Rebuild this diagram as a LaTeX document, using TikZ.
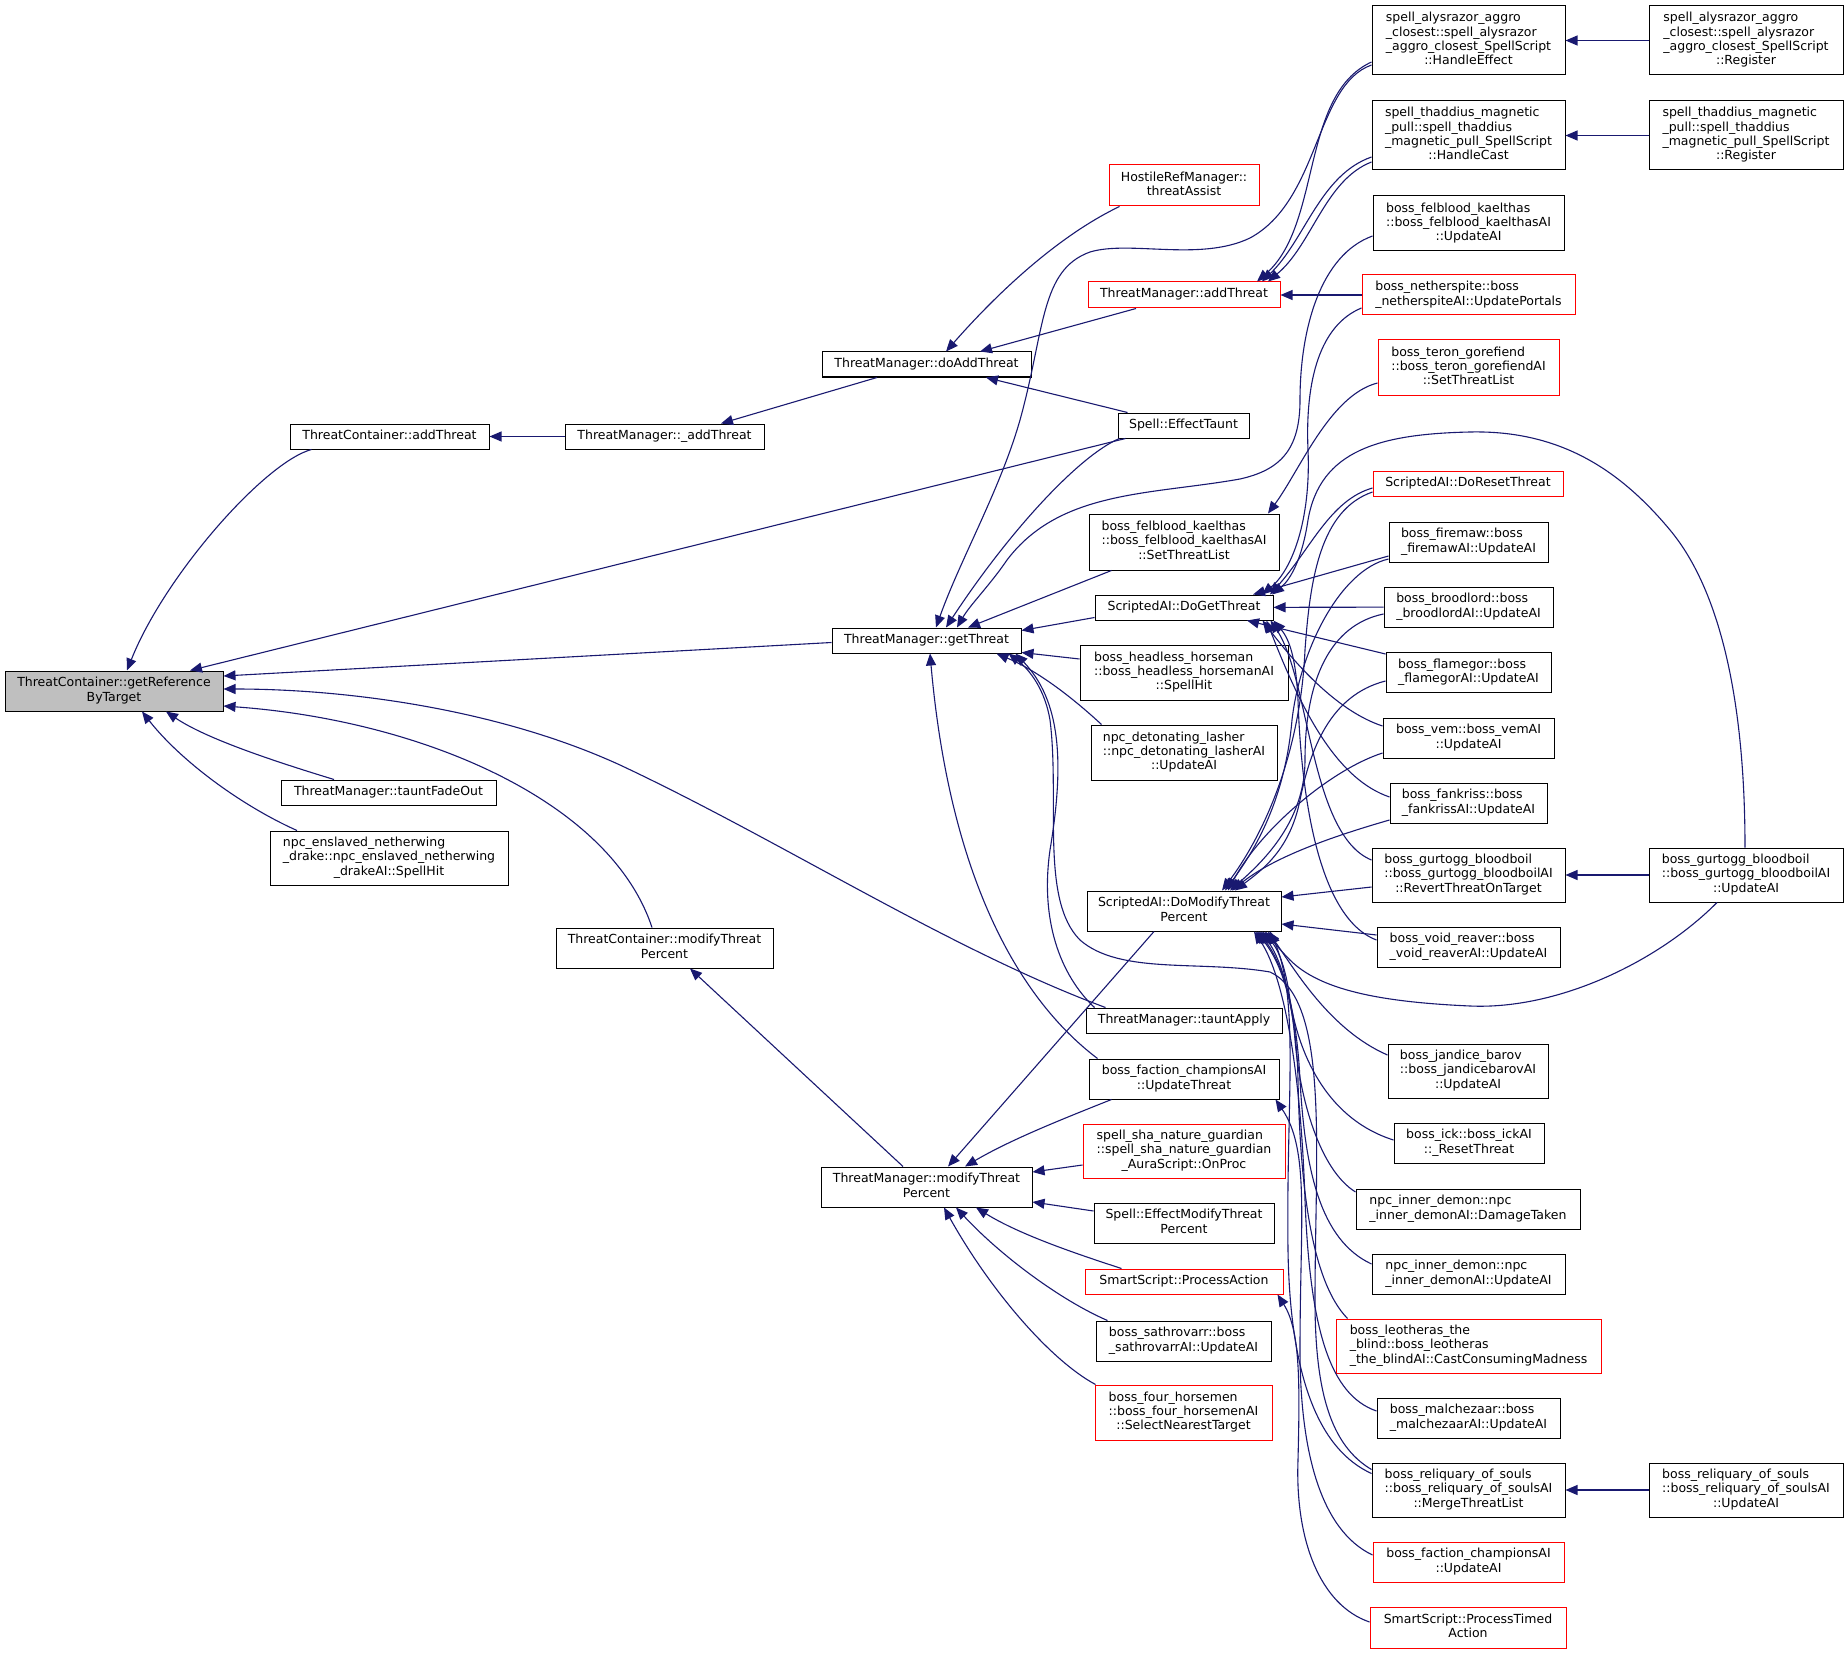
\documentclass[tikz,border=0pt]{standalone}
\usepackage{fontspec}
\newfontfamily\dotfont{DejaVu Sans}
\usepackage{xcolor}
\usetikzlibrary{arrows.meta}
\definecolor{edgeblue}{HTML}{191970}
\definecolor{rootgray}{HTML}{BFBFBF}
\definecolor{linkred}{HTML}{FF0000}
\newcommand{\boxlines}[2]{\begin{tabular}{@{}l@{}}#1\\\multicolumn{1}{@{}c@{}}{#2}\end{tabular}}
\tikzstyle{func} = [rectangle, draw=black, line width=1pt, fill=white, inner sep=0pt, font=\dotfont\fontsize{12.5}{14.3}\selectfont, execute at begin node=\strut]
\tikzstyle{funcred} = [func, draw=linkred]
\tikzstyle{funcroot} = [func, fill=rootgray]
\tikzstyle{arrow} = [line width=1.1pt, draw=edgeblue, -{Triangle[length=12pt,width=10pt]}]
\tikzset{wh/.style 2 args={minimum width=#1pt, minimum height=#2pt}}

\begin{document}
\begin{tikzpicture}[x=1pt, y=-1pt]
    \path[fill=white] (0,0) rectangle (1848,1653);
    \useasboundingbox (0,0) rectangle (1848,1653);

    \node (getref) [funcroot, wh={218}{40}] at (114,691) {\boxlines{ThreatContainer::getReference}{ByTarget}};
    \node (addthrc) [func, wh={199}{25}] at (389.5,436.5) {ThreatContainer::addThreat};
    \node (fadeout) [func, wh={215}{25}] at (388.5,792.5) {ThreatManager::tauntFadeOut};
    \node (enslaved) [func, wh={238}{54}] at (389,858) {\boxlines{npc\_enslaved\_netherwing\\\_drake::npc\_enslaved\_netherwing}{\_drakeAI::SpellHit}};
    \node (uaddthr) [func, wh={199}{25}] at (664.5,436.5) {ThreatManager::\_addThreat};
    \node (modthrc) [func, wh={217}{40}] at (664.5,948) {\boxlines{ThreatContainer::modifyThreat}{Percent}};
    \node (doaddthr) [func, wh={209}{25}] at (926.5,364.5) {ThreatManager::doAddThreat};
    \node (getthr) [func, wh={189}{25}] at (926.5,640.5) {ThreatManager::getThreat};
    \node (modthrm) [func, wh={211}{40}] at (926.5,1187) {\boxlines{ThreatManager::modifyThreat}{Percent}};

    \node (assist) [funcred, wh={150}{41}] at (1184,185.5) {\boxlines{HostileRefManager::}{threatAssist}};
    \node (addthrm) [funcred, wh={192}{26}] at (1184,295) {ThreatManager::addThreat};
    \node (taunt) [func, wh={131}{25}] at (1183.5,425.5) {Spell::EffectTaunt};
    \node (setlist) [func, wh={190}{56}] at (1184,542) {\boxlines{boss\_felblood\_kaelthas\\::boss\_felblood\_kaelthasAI}{::SetThreatList}};
    \node (dogetthr) [func, wh={178}{25}] at (1184,607.5) {ScriptedAI::DoGetThreat};
    \node (headless) [func, wh={208}{55}] at (1184,672.5) {\boxlines{boss\_headless\_horseman\\::boss\_headless\_horsemanAI}{::SpellHit}};
    \node (lasher) [func, wh={186}{55}] at (1184,752.5) {\boxlines{npc\_detonating\_lasher\\::npc\_detonating\_lasherAI}{::UpdateAI}};
    \node (domodthr) [func, wh={194}{40}] at (1184,911) {\boxlines{ScriptedAI::DoModifyThreat}{Percent}};
    \node (tauntapp) [func, wh={196}{25}] at (1184,1020.5) {ThreatManager::tauntApply};
    \node (updthr) [func, wh={190}{40}] at (1184,1079) {\boxlines{boss\_faction\_championsAI}{::UpdateThreat}};
    \node (natguard) [funcred, wh={202}{54}] at (1184,1151) {\boxlines{spell\_sha\_nature\_guardian\\::spell\_sha\_nature\_guardian}{\_AuraScript::OnProc}};
    \node (effmod) [func, wh={180}{40}] at (1184,1223) {\boxlines{Spell::EffectModifyThreat}{Percent}};
    \node (procact) [funcred, wh={198}{25}] at (1184,1281.5) {SmartScript::ProcessAction};
    \node (sathro) [func, wh={175}{40}] at (1183.5,1341) {\boxlines{boss\_sathrovarr::boss}{\_sathrovarrAI::UpdateAI}};
    \node (horsemen) [funcred, wh={177}{55}] at (1183.5,1412.5) {\boxlines{boss\_four\_horsemen\\::boss\_four\_horsemenAI}{::SelectNearestTarget}};

    \node (alyeff) [func, wh={193}{69}] at (1468.5,40.5) {\boxlines{spell\_alysrazor\_aggro\\\_closest::spell\_alysrazor\\\_aggro\_closest\_SpellScript}{::HandleEffect}};
    \node (thadcast) [func, wh={193}{69}] at (1468.5,135.5) {\boxlines{spell\_thaddius\_magnetic\\\_pull::spell\_thaddius\\\_magnetic\_pull\_SpellScript}{::HandleCast}};
    \node (felai) [func, wh={191}{55}] at (1468.5,223.5) {\boxlines{boss\_felblood\_kaelthas\\::boss\_felblood\_kaelthasAI}{::UpdateAI}};
    \node (nether) [funcred, wh={213}{40}] at (1468.5,295) {\boxlines{boss\_netherspite::boss}{\_netherspiteAI::UpdatePortals}};
    \node (teron) [funcred, wh={181}{55}] at (1468.5,367.5) {\boxlines{boss\_teron\_gorefiend\\::boss\_teron\_gorefiendAI}{::SetThreatList}};
    \node (doreset) [funcred, wh={190}{25}] at (1468,483.5) {ScriptedAI::DoResetThreat};
    \node (firemaw) [func, wh={159}{40}] at (1468.5,542) {\boxlines{boss\_firemaw::boss}{\_firemawAI::UpdateAI}};
    \node (brood) [func, wh={169}{40}] at (1468.5,607) {\boxlines{boss\_broodlord::boss}{\_broodlordAI::UpdateAI}};
    \node (flamegor) [func, wh={165}{40}] at (1468.5,672.5) {\boxlines{boss\_flamegor::boss}{\_flamegorAI::UpdateAI}};
    \node (vem) [func, wh={171}{40}] at (1468.5,738) {\boxlines{boss\_vem::boss\_vemAI}{::UpdateAI}};
    \node (fankriss) [func, wh={157}{40}] at (1468.5,803) {\boxlines{boss\_fankriss::boss}{\_fankrissAI::UpdateAI}};
    \node (revert) [func, wh={193}{54}] at (1468.5,875) {\boxlines{boss\_gurtogg\_bloodboil\\::boss\_gurtogg\_bloodboilAI}{::RevertThreatOnTarget}};
    \node (voidrv) [func, wh={183}{40}] at (1468.5,947) {\boxlines{boss\_void\_reaver::boss}{\_void\_reaverAI::UpdateAI}};
    \node (jandice) [func, wh={160}{54}] at (1468,1071) {\boxlines{boss\_jandice\_barov\\::boss\_jandicebarovAI}{::UpdateAI}};
    \node (ick) [func, wh={150}{40}] at (1469,1143) {\boxlines{boss\_ick::boss\_ickAI}{::\_ResetThreat}};
    \node (demondmg) [func, wh={224}{40}] at (1468,1209) {\boxlines{npc\_inner\_demon::npc}{\_inner\_demonAI::DamageTaken}};
    \node (demonai) [func, wh={193}{40}] at (1468.5,1274) {\boxlines{npc\_inner\_demon::npc}{\_inner\_demonAI::UpdateAI}};
    \node (leoth) [funcred, wh={265}{54}] at (1468.5,1346) {\boxlines{boss\_leotheras\_the\\\_blind::boss\_leotheras}{\_the\_blindAI::CastConsumingMadness}};
    \node (malch) [func, wh={183}{40}] at (1468.5,1418) {\boxlines{boss\_malchezaar::boss}{\_malchezaarAI::UpdateAI}};
    \node (reliq) [func, wh={193}{54}] at (1468.5,1490) {\boxlines{boss\_reliquary\_of\_souls\\::boss\_reliquary\_of\_soulsAI}{::MergeThreatList}};
    \node (factai) [funcred, wh={191}{40}] at (1468.5,1562) {\boxlines{boss\_faction\_championsAI}{::UpdateAI}};
    \node (timed) [funcred, wh={196}{41}] at (1468,1627.5) {\boxlines{SmartScript::ProcessTimed}{Action}};

    \node (alyreg) [func, wh={194}{69}] at (1746,40.5) {\boxlines{spell\_alysrazor\_aggro\\\_closest::spell\_alysrazor\\\_aggro\_closest\_SpellScript}{::Register}};
    \node (thadreg) [func, wh={194}{69}] at (1746,135.5) {\boxlines{spell\_thaddius\_magnetic\\\_pull::spell\_thaddius\\\_magnetic\_pull\_SpellScript}{::Register}};
    \node (gurtai) [func, wh={194}{54}] at (1746,875) {\boxlines{boss\_gurtogg\_bloodboil\\::boss\_gurtogg\_bloodboilAI}{::UpdateAI}};
    \node (reliqai) [func, wh={194}{54}] at (1746,1490) {\boxlines{boss\_reliquary\_of\_souls\\::boss\_reliquary\_of\_soulsAI}{::UpdateAI}};

    \draw[arrow] ([xshift=22pt]addthrc.south west) .. controls (265,462) and (165,575) .. ([xshift=13pt]getref.north);
    \draw[arrow] ([xshift=8pt]taunt.south west) -- ([xshift=76pt]getref.north);
    \draw[arrow] ([yshift=-2pt]getthr.west) -- ([yshift=15pt]getref.east);
    \draw[arrow] ([xshift=20pt]tauntapp.north west) .. controls (950,950) and (780,840) .. (620,765) .. controls (500,710) and (350,689) .. ([yshift=2pt]getref.east);
    \draw[arrow] ([xshift=-12.5pt]modthrc.north) .. controls (610,800) and (420,720) .. ([yshift=-15pt]getref.east);
    \draw[arrow] ([xshift=-54.5pt]fadeout.north) .. controls (270,760) and (205,738) .. ([xshift=52pt]getref.south);
    \draw[arrow] ([xshift=-92pt]enslaved.north) .. controls (240,805) and (180,760) .. ([xshift=28pt]getref.south);
    \draw[arrow] (uaddthr) -- (addthrc);
    \draw[arrow] ([xshift=-49.5pt]doaddthr.south) -- ([xshift=56.5pt]uaddthr.north);
    \draw[arrow] ([xshift=11pt]assist.south west) .. controls (1060,235) and (1000,290) .. ([xshift=19.5pt]doaddthr.north);
    \draw[arrow] ([xshift=-48pt]addthrm.south) -- ([xshift=53.5pt]doaddthr.north);
    \draw[arrow] ([xshift=10pt]taunt.north west) -- ([xshift=59.5pt]doaddthr.south);
    \draw[arrow] ([yshift=-21.5pt]alyeff.west) .. controls (1300,95) and (1322,225) .. ([xshift=73pt]addthrm.north);
    \draw[arrow] ([yshift=-21.5pt]thadcast.west) .. controls (1320,175) and (1305,240) .. ([xshift=78pt]addthrm.north);
    \draw[arrow] ([yshift=-26.5pt]thadcast.west) .. controls (1325,180) and (1312,245) .. ([xshift=84pt]addthrm.north);
    \draw[arrow] (nether) -- (addthrm);
    \draw[arrow] (alyreg) -- (alyeff);
    \draw[arrow] (thadreg) -- (thadcast);
    \draw[arrow] ([yshift=-24.5pt]alyeff.west) .. controls (1315,85) and (1320,200) .. (1250,238) .. controls (1200,262) and (1130,240) .. (1090,252) .. controls (1040,270) and (1045,330) .. (1020,420) .. controls (1000,490) and (960,560) .. ([xshift=9.5pt]getthr.north);
    \draw[arrow] ([xshift=2pt]taunt.south west) .. controls (1080,455) and (1010,530) .. ([xshift=19.5pt]getthr.north);
    \draw[arrow] ([yshift=-13pt]nether.west) .. controls (1320,325) and (1305,380) .. (1308,450) .. controls (1311,520) and (1292,570) .. ([xshift=78pt]dogetthr.north);
    \draw[arrow] ([xshift=23pt]setlist.south west) -- ([xshift=41.5pt]getthr.north);
    \draw[arrow] ([yshift=-12.5pt]felai.west) .. controls (1320,255) and (1300,330) .. (1300,400) .. controls (1300,450) and (1280,470) .. (1240,479) .. controls (1150,495) and (1060,490) .. (1007,560) .. controls (990,585) and (970,605) .. ([xshift=30.5pt]getthr.north);
    \draw[arrow] ([yshift=-15.5pt]teron.west) .. controls (1330,395) and (1300,470) .. ([xshift=84pt]setlist.north);
    \draw[arrow] ([yshift=3pt]dogetthr.south west) -- ([yshift=-3pt]getthr.north east);
    \draw[arrow] ([yshift=13.5pt]headless.west) -- ([yshift=1pt]getthr.south east);
    \draw[arrow] ([xshift=11pt]lasher.north west) .. controls (1075,700) and (1040,672) .. ([xshift=-25pt]getthr.south east);
    \draw[arrow] ([xshift=9pt]tauntapp.north west) .. controls (1060,975) and (1040,920) .. (1050,850) .. controls (1065,760) and (1060,700) .. ([xshift=-6pt]getthr.south east);
    \draw[arrow] ([yshift=-7pt]reliq.north west) .. controls (1330,1445) and (1315,1390) .. (1315,1300) .. controls (1315,1150) and (1330,1000) .. (1270,972) .. controls (1200,960) and (1120,975) .. (1080,940) .. controls (1040,900) and (1060,800) .. (1050,720) .. controls (1045,690) and (1030,670) .. ([xshift=-13pt]getthr.south east);
    \draw[arrow] ([xshift=9pt]updthr.north west) .. controls (1020,1000) and (950,880) .. ([xshift=3.5pt]getthr.south);
    \draw[arrow] ([yshift=-4.5pt]doreset.west) .. controls (1330,500) and (1310,550) .. ([xshift=86pt]dogetthr.north);
    \draw[arrow] ([yshift=-8.5pt]doreset.west) .. controls (1320,510) and (1310,580) .. (1305,650) .. controls (1300,760) and (1260,840) .. ([xshift=38pt]domodthr.north);
    \draw[arrow] ([yshift=-14pt]firemaw.west) -- ([xshift=69pt]dogetthr.north);
    \draw[arrow] ([yshift=-17pt]firemaw.west) .. controls (1340,570) and (1300,650) .. (1292,720) .. controls (1285,800) and (1255,850) .. ([xshift=41pt]domodthr.north);
    \draw[arrow] (brood) -- (dogetthr);
    \draw[arrow] ([yshift=-7pt]brood.west) .. controls (1330,625) and (1305,680) .. (1305,760) .. controls (1305,820) and (1265,860) .. ([xshift=46pt]domodthr.north);
    \draw[arrow] ([yshift=-2pt]flamegor.north west) -- ([xshift=63pt]dogetthr.south);
    \draw[arrow] ([yshift=-8.5pt]flamegor.west) .. controls (1330,695) and (1310,750) .. (1300,800) .. controls (1290,850) and (1262,870) .. ([xshift=51pt]domodthr.north);
    \draw[arrow] ([yshift=12pt]vem.west) .. controls (1340,712) and (1300,670) .. ([xshift=-11pt]dogetthr.south east);
    \draw[arrow] ([yshift=-15pt]vem.west) .. controls (1330,770) and (1260,830) .. ([xshift=44pt]domodthr.north);
    \draw[arrow] ([yshift=6pt]fankriss.west) .. controls (1340,780) and (1305,720) .. ([xshift=-7pt]dogetthr.south east);
    \draw[arrow] ([yshift=-17pt]fankriss.west) .. controls (1320,840) and (1270,860) .. ([xshift=48pt]domodthr.north);
    \draw[arrow] ([yshift=15pt]revert.west) .. controls (1310,835) and (1310,680) .. ([xshift=-3pt]dogetthr.south east);
    \draw[arrow] ([yshift=-12pt]revert.west) -- ([yshift=14pt]domodthr.east);
    \draw[arrow] ([yshift=7pt]voidrv.west) .. controls (1310,915) and (1300,760) .. (1298,700) .. controls (1296,660) and (1290,640) .. (dogetthr.south east);
    \draw[arrow] ([yshift=12pt]voidrv.west) -- ([yshift=-13pt]domodthr.east);
    \draw[arrow] (gurtai) -- (revert);
    \draw[arrow] ([xshift=-1pt]gurtai.north) .. controls (1745,700) and (1720,590) .. (1670,530) .. controls (1620,470) and (1560,430) .. (1470,432) .. controls (1380,434) and (1320,450) .. (1308,520) .. controls (1302,560) and (1290,580) .. ([xshift=88pt]dogetthr.north);
    \draw[arrow] ([xshift=-29pt]gurtai.south) .. controls (1660,960) and (1560,1010) .. (1470,1006) .. controls (1380,1002) and (1320,990) .. (1290,960) .. controls (1280,950) and (1272,940) .. ([xshift=81pt]domodthr.south);
    \draw[arrow] ([yshift=16pt]jandice.west) .. controls (1330,1030) and (1295,970) .. ([xshift=84pt]domodthr.south);
    \draw[arrow] ([yshift=3pt]ick.west) .. controls (1330,1120) and (1300,1060) .. (1290,1000) .. controls (1285,960) and (1275,945) .. ([xshift=78pt]domodthr.south);
    \draw[arrow] ([yshift=17pt]demondmg.west) .. controls (1320,1170) and (1300,1100) .. (1295,1040) .. controls (1290,980) and (1275,950) .. ([xshift=76pt]domodthr.south);
    \draw[arrow] ([yshift=10pt]demonai.west) .. controls (1320,1240) and (1305,1170) .. (1300,1080) .. controls (1296,1000) and (1280,960) .. ([xshift=74pt]domodthr.south);
    \draw[arrow] ([xshift=12pt]leoth.north west) .. controls (1310,1280) and (1300,1180) .. (1298,1080) .. controls (1296,990) and (1275,955) .. ([xshift=72pt]domodthr.south);
    \draw[arrow] ([yshift=7pt]malch.west) .. controls (1330,1395) and (1310,1330) .. (1305,1200) .. controls (1300,1050) and (1280,970) .. ([xshift=70pt]domodthr.south);
    \draw[arrow] ([yshift=-11pt]reliq.north west) .. controls (1320,1450) and (1290,1380) .. (1288,1250) .. controls (1286,1100) and (1300,1000) .. ([xshift=86pt]domodthr.south);
    \draw[arrow] ([yshift=7pt]factai.west) .. controls (1320,1530) and (1300,1450) .. (1300,1350) .. controls (1300,1220) and (1310,1150) .. ([xshift=-4pt]updthr.south east);
    \draw[arrow] ([yshift=5.5pt]timed.west) .. controls (1320,1605) and (1295,1540) .. (1298,1460) .. controls (1300,1380) and (1300,1330) .. ([xshift=-6pt]procact.south east);
    \draw[arrow] (reliqai) -- (reliq);
    \draw[arrow] ([xshift=-30pt]domodthr.south) -- ([xshift=21.5pt]modthrm.north);
    \draw[arrow] ([xshift=23pt]updthr.south west) .. controls (1060,1120) and (1010,1140) .. ([xshift=38.5pt]modthrm.north);
    \draw[arrow] ([yshift=-14pt]natguard.west) -- ([yshift=15pt]modthrm.east);
    \draw[arrow] ([yshift=12pt]effmod.west) -- ([yshift=-15pt]modthrm.east);
    \draw[arrow] ([xshift=37pt]procact.north west) .. controls (1080,1255) and (1020,1235) .. ([xshift=49.5pt]modthrm.south);
    \draw[arrow] ([xshift=12pt]sathro.north west) .. controls (1060,1300) and (1000,1255) .. ([xshift=29.5pt]modthrm.south);
    \draw[arrow] ([xshift=1pt]horsemen.north west) .. controls (1050,1360) and (990,1290) .. ([xshift=17.5pt]modthrm.south);
    \draw[arrow] ([xshift=-23.5pt]modthrm.north) -- ([xshift=25.5pt]modthrc.south);
\end{tikzpicture}
\end{document}
